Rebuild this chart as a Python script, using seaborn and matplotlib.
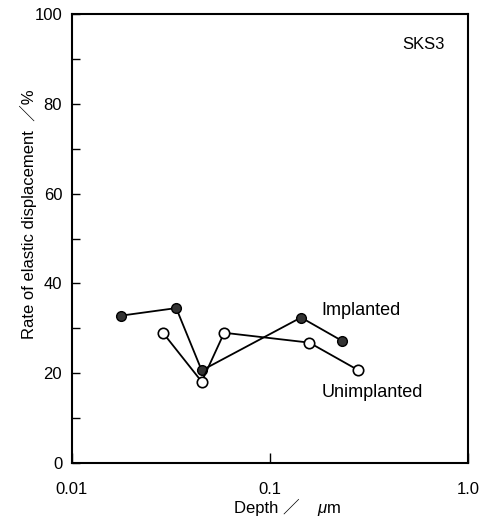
import numpy as np
import pandas as pd
import matplotlib
matplotlib.use("Agg")
import matplotlib.pyplot as plt
from matplotlib.ticker import FixedLocator, FixedFormatter, NullLocator
import seaborn as sns

# valores
depth_impl = [0.0176, 0.0336, 0.0452, 0.1435, 0.231]
rate_impl = [32.8, 34.5, 20.6, 32.4, 27.2]
depth_unimpl = [0.0288, 0.0452, 0.0587, 0.158, 0.278]
rate_unimpl = [29.0, 18.1, 29.0, 26.8, 20.7]
xtick_vals = [0.01, 0.1, 1.0]
xtick_labels = ['0.01', '0.1', '1.0']

df_i = pd.DataFrame({'depth': depth_impl, 'rate': rate_impl})
df_u = pd.DataFrame({'depth': depth_unimpl, 'rate': rate_unimpl})

sns.set_style("ticks")
plt.rcParams['font.family'] = ['Liberation Sans', 'Noto Sans CJK JP', 'DejaVu Sans']
plt.rcParams['mathtext.fontset'] = 'custom'
plt.rcParams['mathtext.it'] = 'Liberation Sans:italic'
plt.rcParams['mathtext.rm'] = 'Liberation Sans'
plt.rcParams['text.color'] = 'black'
plt.rcParams['axes.labelcolor'] = 'black'
plt.rcParams['xtick.color'] = 'black'
plt.rcParams['ytick.color'] = 'black'
plt.rcParams['axes.edgecolor'] = 'black'

fig = plt.figure(figsize=(4.83, 5.26), dpi=100)
ax = fig.add_axes([0.149, 0.12, 0.820, 0.853])

sns.lineplot(data=df_i, x='depth', y='rate', sort=False, ax=ax, color='black',
             lw=1.3, marker='o', markersize=7, markerfacecolor='#333333',
             markeredgecolor='black', markeredgewidth=1.0)
sns.lineplot(data=df_u, x='depth', y='rate', sort=False, ax=ax, color='black',
             lw=1.3, marker='o', markersize=7.5, markerfacecolor='white',
             markeredgecolor='black', markeredgewidth=1.2)

ax.set_xscale('log')
ax.set_xlim(0.01, 1.0)
ax.set_ylim(0, 100)
ax.xaxis.set_major_locator(FixedLocator(xtick_vals))
ax.xaxis.set_major_formatter(FixedFormatter(xtick_labels))
ax.xaxis.set_minor_locator(NullLocator())
ax.set_yticks(np.arange(0, 101, 20))
ax.set_yticks(np.arange(10, 100, 20), minor=True)
ax.tick_params(axis='y', direction='in', length=6, width=1, labelsize=12, pad=7)
ax.tick_params(axis='x', direction='in', length=7, width=1, labelsize=12, pad=14)
ax.tick_params(which='minor', direction='in', length=6, width=1)
for s in ax.spines.values():
    s.set_linewidth(1.5)

# etiqueta del eje x en dos partes para tener la mu en cursiva
ax.set_xlabel('')
fig.text(0.621, 0.025, 'Depth ／', fontsize=12, ha='right', va='baseline')
fig.text(0.656, 0.025, '$\\mu$m', fontsize=12, ha='left', va='baseline')
ax.set_ylabel('Rate of elastic displacement  ／%', fontsize=12)
ax.yaxis.set_label_coords(-0.088, 0.555)

ax.text(0.1824, 33.0, 'Implanted', fontsize=13, va='baseline')
ax.text(0.1824, 14.7, 'Unimplanted', fontsize=13, va='baseline')
ax.text(0.94, 92.2, 'SKS3', fontsize=12, va='baseline', ha='right',
        transform=ax.get_yaxis_transform())

fig.savefig('out.png', dpi=100)
